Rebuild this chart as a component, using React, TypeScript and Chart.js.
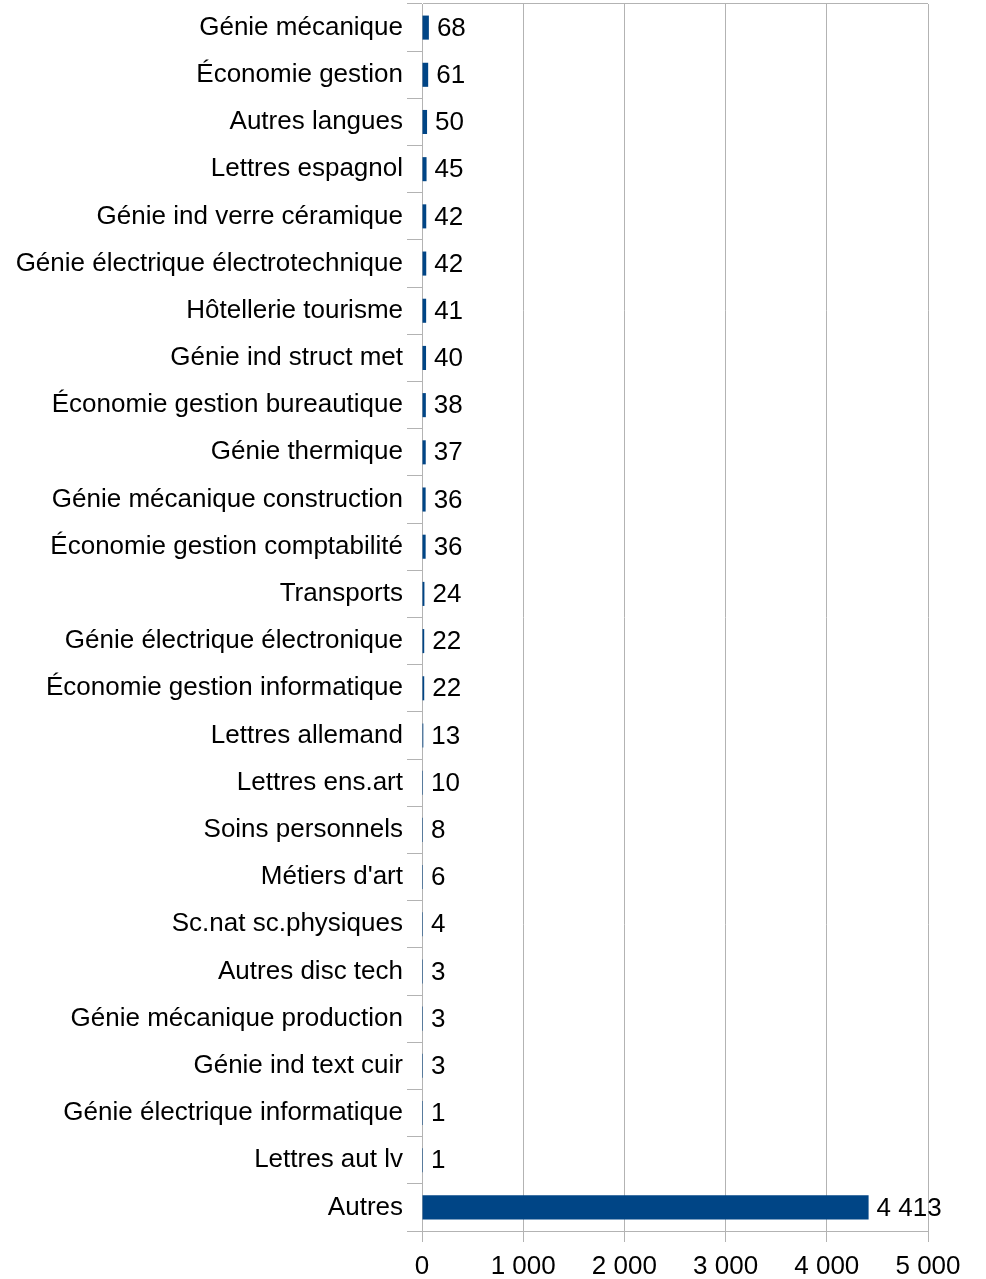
import React, { useEffect, useRef } from "react";
import { Chart, registerables } from "chart.js";

Chart.register(...registerables);

const categories: string[] = [
  "Génie mécanique",
  "Économie gestion",
  "Autres langues",
  "Lettres espagnol",
  "Génie ind verre céramique",
  "Génie électrique électrotechnique",
  "Hôtellerie tourisme",
  "Génie ind struct met",
  "Économie gestion bureautique",
  "Génie thermique",
  "Génie mécanique construction",
  "Économie gestion comptabilité",
  "Transports",
  "Génie électrique électronique",
  "Économie gestion informatique",
  "Lettres allemand",
  "Lettres ens.art",
  "Soins personnels",
  "Métiers d'art",
  "Sc.nat sc.physiques",
  "Autres disc tech",
  "Génie mécanique production",
  "Génie ind text cuir",
  "Génie électrique informatique",
  "Lettres aut lv",
  "Autres",
];

const values: number[] = [
  68, 61, 50, 45, 42, 42, 41, 40, 38, 37, 36, 36, 24, 22, 22, 13, 10, 8, 6, 4, 3, 3, 3, 1, 1, 4413,
];

const xTicks: number[] = [0, 1000, 2000, 3000, 4000, 5000];

const FONT = "'Liberation Sans', Arial, sans-serif";
const FS = 26;
const GRID = "#b3b3b3";
const BAR = "#004586";

function fmt(n: number): string {
  return String(n).replace(/\B(?=(\d{3})+(?!\d))/g, " ");
}

const valueLabels = {
  id: "valueLabels",
  afterDatasetsDraw(chart: any) {
    const ctx = chart.ctx;
    const meta = chart.getDatasetMeta(0);
    ctx.save();
    ctx.font = `${FS}px ${FONT}`;
    ctx.fillStyle = "#000";
    ctx.textAlign = "left";
    ctx.textBaseline = "middle";
    meta.data.forEach((el: any, i: number) => {
      ctx.fillText(fmt(values[i]), Math.max(el.x, chart.chartArea.left + 1) + 8, el.y + 1);
    });
    ctx.restore();
  },
};

export default function App() {
  const ref = useRef<HTMLCanvasElement | null>(null);
  useEffect(() => {
    if (!ref.current) return;
    const chart = new Chart(ref.current, {
      type: "bar",
      data: {
        labels: categories,
        datasets: [
          {
            data: values,
            backgroundColor: BAR,
            borderWidth: 0,
            barPercentage: 0.51,
            categoryPercentage: 1,
            minBarLength: 1,
          },
        ],
      },
      options: {
        indexAxis: "y",
        animation: false,
        responsive: true,
        maintainAspectRatio: false,
        layout: { padding: { left: 0, right: 58, top: 4, bottom: 0 } },
        plugins: {
          legend: { display: false },
          tooltip: { enabled: false },
        },
        scales: {
          x: {
            min: 0,
            max: 5000,
            afterBuildTicks: (scale: any) => {
              scale.ticks = xTicks.map((v) => ({ value: v }));
            },
            afterFit: (scale: any) => {
              scale.height = 48;
            },
            ticks: {
              color: "#000",
              font: { family: FONT, size: FS },
              padding: 9,
              maxRotation: 0,
              callback: (v: any) => fmt(Number(v)),
            },
            grid: {
              color: GRID,
              lineWidth: 1,
              tickLength: 11,
              drawTicks: true,
            },
            border: { color: GRID, width: 1 },
          },
          y: {
            afterFit: (scale: any) => {
              scale.width = 422;
              scale.paddingTop = 0;
              scale.paddingBottom = 0;
            },
            ticks: {
              color: "#000",
              font: { family: FONT, size: FS },
              padding: 4,
              autoSkip: false,
            },
            grid: {
              offset: true,
              drawOnChartArea: true,
              color: (c: any) => (c.index === 0 ? GRID : "rgba(0,0,0,0)"),
              tickColor: GRID,
              tickLength: 15,
              lineWidth: 1,
            },
            border: { color: GRID, width: 1 },
          },
        },
      },
      plugins: [valueLabels],
    });
    return () => chart.destroy();
  }, []);
  return (
    <div style={{ position: "absolute", left: 0, top: 0, width: 986, height: 1279 }}>
      <canvas ref={ref} />
    </div>
  );
}
